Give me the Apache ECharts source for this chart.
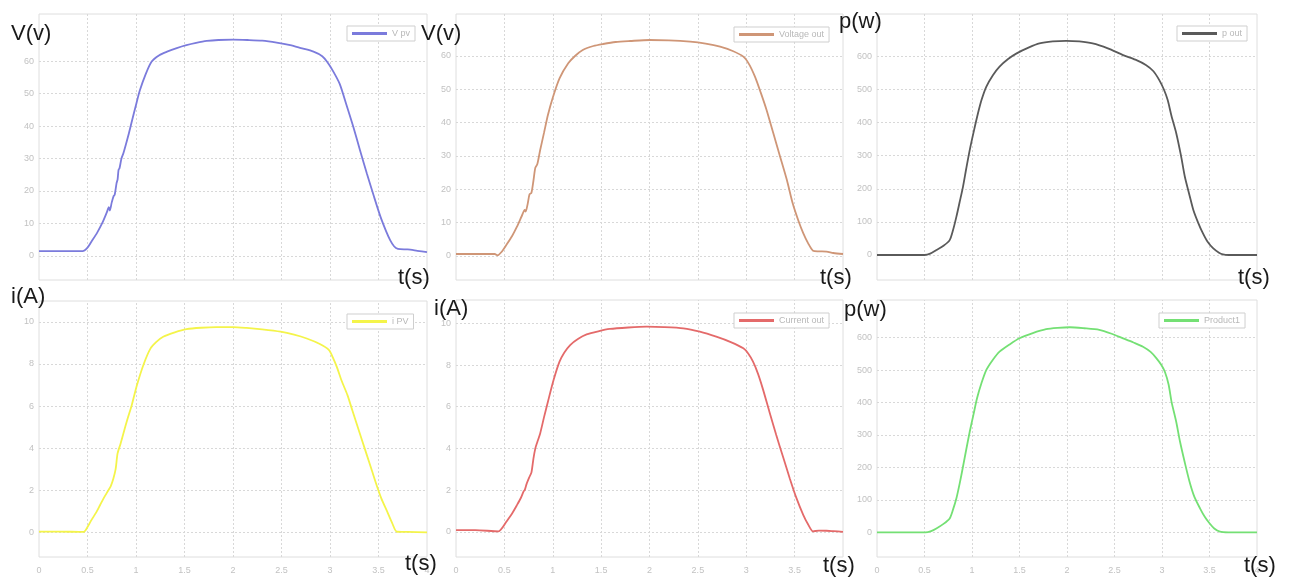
<!DOCTYPE html>
<html>
<head>
<meta charset="utf-8">
<script src="https://cdn.jsdelivr.net/npm/echarts@6/dist/echarts.min.js"></script>
<style>
  html, body { margin: 0; padding: 0; background: #fff; }
  #main { width: 1293px; height: 579px; }
</style>
</head>
<body>
<div id="main"></div>
<script>
// time samples (s) and values
var tVpv = [0, 0.2, 0.45, 0.5, 0.54, 0.6, 0.65, 0.7, 0.72, 0.73, 0.75, 0.77, 0.78, 0.8, 0.81, 0.82, 0.83, 0.85, 0.87, 0.92, 0.96, 1.0, 1.04, 1.1, 1.16, 1.24, 1.32, 1.42, 1.52, 1.62, 1.73, 1.85, 2.0, 2.15, 2.3, 2.45, 2.59, 2.7, 2.83, 2.92, 2.97, 3.03, 3.1, 3.17, 3.24, 3.31, 3.38, 3.45, 3.52, 3.58, 3.62, 3.66, 3.7, 3.8, 3.9, 4.0];
var vPv = [1.5, 1.5, 1.5, 2.6, 4.4, 7.2, 10, 13.5, 15, 14, 16.5, 18.5, 18.8, 22.5, 23.5, 26.5, 27, 30, 31.6, 37, 41.8, 46.5, 51, 56, 59.8, 61.8, 62.9, 64, 64.9, 65.6, 66.2, 66.5, 66.6, 66.5, 66.3, 65.7, 64.9, 64, 62.9, 61.5, 59.8, 57, 53, 46.5, 39.8, 32.5, 25.4, 18.6, 12.1, 7.5, 4.9, 3, 2.2, 2, 1.6, 1.2];

var tVout = [0, 0.2, 0.4, 0.43, 0.47, 0.52, 0.58, 0.63, 0.68, 0.71, 0.72, 0.74, 0.76, 0.78, 0.8, 0.82, 0.84, 0.87, 0.91, 0.95, 1.0, 1.07, 1.16, 1.23, 1.31, 1.42, 1.52, 1.65, 1.8, 2.0, 2.2, 2.42, 2.58, 2.73, 2.86, 2.97, 3.03, 3.09, 3.15, 3.21, 3.28, 3.35, 3.42, 3.48, 3.54, 3.59, 3.64, 3.69, 3.75, 3.83, 3.9, 4.0];
var vOut = [0.6, 0.6, 0.6, 0.2, 1.2, 3.3, 6, 8.8, 12, 13.8, 13.3, 15.5, 18.5, 19, 22.5, 26.5, 27.5, 31.8, 37, 42.3, 47.5, 53.3, 57.8, 60, 61.8, 63, 63.6, 64.2, 64.5, 64.8, 64.7, 64.3, 63.7, 62.8, 61.5, 59.8, 57.5, 53.8, 49, 43.8, 36.8, 29.8, 22.8, 15.8, 10.5, 6.8, 3.8, 1.6, 1.4, 1.3, 0.9, 0.6];

var tPout = [0, 0.3, 0.5, 0.56, 0.625, 0.7, 0.765, 0.8, 0.836, 0.87, 0.905, 0.94, 0.976, 1.02, 1.063, 1.1, 1.15, 1.22, 1.29, 1.38, 1.47, 1.6, 1.71, 1.85, 1.99, 2.13, 2.27, 2.43, 2.59, 2.72, 2.83, 2.91, 2.97, 3.02, 3.06, 3.1, 3.15, 3.2, 3.24, 3.29, 3.33, 3.38, 3.43, 3.48, 3.54, 3.6, 3.64, 3.7, 3.8, 4.0];
var pOut = [0, 0, 0, 4, 15, 28, 45, 75, 116, 160, 206, 262, 317, 375, 428, 468, 508, 543, 569, 592, 609, 627, 639, 645, 647, 645, 639, 624, 604, 590, 574, 555, 529, 500, 468, 420, 368, 300, 237, 180, 136, 98, 66, 40, 20, 7, 2, 0, 0, 0];

var tIpv = [0, 0.2, 0.46, 0.5, 0.54, 0.59, 0.63, 0.67, 0.715, 0.74, 0.767, 0.79, 0.81, 0.84, 0.87, 0.91, 0.956, 1.01, 1.08, 1.15, 1.21, 1.28, 1.4, 1.52, 1.67, 1.83, 2.0, 2.14, 2.3, 2.49, 2.63, 2.76, 2.89, 2.99, 3.03, 3.07, 3.12, 3.18, 3.23, 3.28, 3.33, 3.38, 3.43, 3.48, 3.53, 3.59, 3.64, 3.69, 3.8, 4.0];
var iPv = [0.04, 0.04, 0.02, 0.25, 0.58, 0.95, 1.3, 1.65, 2.0, 2.2, 2.56, 3.0, 3.75, 4.2, 4.7, 5.35, 6.04, 7.0, 8.0, 8.74, 9.05, 9.29, 9.5, 9.65, 9.72, 9.75, 9.75, 9.71, 9.64, 9.53, 9.39, 9.21, 8.96, 8.66, 8.3, 7.86, 7.2, 6.52, 5.8, 5.09, 4.38, 3.67, 2.96, 2.25, 1.6, 0.98, 0.45, 0.03, 0.02, 0];

var tIout = [0, 0.2, 0.44, 0.48, 0.52, 0.58, 0.63, 0.67, 0.7, 0.71, 0.73, 0.76, 0.78, 0.8, 0.82, 0.84, 0.87, 0.91, 0.95, 1.01, 1.07, 1.12, 1.18, 1.26, 1.35, 1.47, 1.59, 1.78, 1.97, 2.15, 2.35, 2.52, 2.69, 2.84, 2.97, 3.02, 3.07, 3.12, 3.17, 3.24, 3.31, 3.38, 3.45, 3.52, 3.59, 3.64, 3.69, 3.75, 3.83, 3.9, 4.0];
var iOut = [0.08, 0.08, 0.02, 0.2, 0.48, 0.88, 1.28, 1.62, 1.95, 2.0, 2.3, 2.64, 2.85, 3.5, 4.0, 4.3, 4.72, 5.5, 6.24, 7.3, 8.16, 8.6, 8.96, 9.25, 9.47, 9.62, 9.73, 9.8, 9.84, 9.82, 9.76, 9.6, 9.36, 9.1, 8.8, 8.55, 8.16, 7.6, 6.88, 5.75, 4.64, 3.6, 2.56, 1.6, 0.8, 0.35, 0.02, 0.06, 0.05, 0.03, 0];

var tProd = [0, 0.3, 0.51, 0.57, 0.625, 0.7, 0.765, 0.8, 0.836, 0.87, 0.905, 0.94, 0.976, 1.015, 1.053, 1.1, 1.15, 1.22, 1.29, 1.4, 1.5, 1.64, 1.78, 1.9, 2.03, 2.18, 2.34, 2.47, 2.59, 2.7, 2.8, 2.88, 2.94, 2.99, 3.03, 3.07, 3.1, 3.15, 3.19, 3.24, 3.29, 3.34, 3.4, 3.45, 3.5, 3.55, 3.61, 3.7, 3.8, 4.0];
var pProd = [0, 0, 0, 4, 12, 26, 43, 70, 105, 150, 202, 256, 310, 362, 413, 460, 500, 532, 557, 580, 598, 614, 626, 630, 632, 629, 624, 612, 598, 585, 572, 556, 537, 517, 495, 455, 403, 340, 279, 215, 156, 110, 74, 48, 28, 12, 2, 0, 0, 0];

// tick labels
var xTicks = [0, 0.5, 1, 1.5, 2, 2.5, 3, 3.5, 4];
var vTicks = [0, 10, 20, 30, 40, 50, 60];
var iTicks = [0, 2, 4, 6, 8, 10];
var pTicks = [0, 100, 200, 300, 400, 500, 600];

function zip(t, v) {
  var out = [];
  for (var i = 0; i < t.length; i++) out.push([t[i], v[i]]);
  return out;
}

var panels = [
  { name: 'V pv', t: tVpv, v: vPv, color: '#7b7bdc', grid: [39, 14, 388, 266], y: [-7.4, 74.5], ticks: vTicks, legend: [347, 26], xlab: false },
  { name: 'Voltage out', t: tVout, v: vOut, color: '#cf9677', grid: [456, 14, 387, 266], y: [-7.2, 72.6], ticks: vTicks, legend: [734, 27], xlab: false },
  { name: 'p out', t: tPout, v: pOut, color: '#5a5a5a', grid: [877, 14, 380, 266], y: [-75.5, 728], ticks: pTicks, legend: [1177, 26], xlab: false },
  { name: 'i PV', t: tIpv, v: iPv, color: '#f4f44a', grid: [39, 301, 388, 256], y: [-1.17, 10.99], ticks: iTicks, legend: [347, 314], xlab: true },
  { name: 'Current out', t: tIout, v: iOut, color: '#e46a6a', grid: [456, 300, 387, 257], y: [-1.21, 11.12], ticks: iTicks, legend: [734, 313], xlab: true },
  { name: 'Product1', t: tProd, v: pProd, color: '#74e074', grid: [877, 300, 380, 257], y: [-76, 716], ticks: pTicks, legend: [1159, 313], xlab: true }
];

var labelFont = { fontSize: 9, color: '#c2c2c2', fontFamily: 'Liberation Sans' };
var dotted = { color: '#d8d8d8', type: [2, 2], width: 1 };

var grids = [], xAxes = [], yAxes = [], series = [], legends = [];
panels.forEach(function (p, k) {
  grids.push({ left: p.grid[0], top: p.grid[1], width: p.grid[2], height: p.grid[3], show: true, borderColor: '#dedede', borderWidth: 1 });
  xAxes.push({
    gridIndex: k, type: 'value', min: 0, max: 4,
    axisLine: { show: false }, axisTick: { show: false, customValues: xTicks },
    axisLabel: Object.assign({ show: p.xlab, margin: 9, customValues: xTicks }, labelFont),
    splitLine: { show: false }
  });
  yAxes.push({
    gridIndex: k, type: 'value', min: p.y[0], max: p.y[1],
    axisLine: { show: false }, axisTick: { show: false, customValues: p.ticks },
    axisLabel: Object.assign({ margin: 5, customValues: p.ticks }, labelFont),
    splitLine: { show: false }
  });
  // dotted grid lines at the tick values, kept under the curve
  var gridLines = xTicks.slice(1, -1).map(function (x) { return { xAxis: x }; })
    .concat(p.ticks.map(function (y) { return { yAxis: y }; }));
  series.push({
    name: 'grid' + k, type: 'line', xAxisIndex: k, yAxisIndex: k, data: [], z: 1,
    markLine: { silent: true, z: 1, symbol: 'none', label: { show: false }, lineStyle: dotted, animation: false, data: gridLines }
  });
  series.push({
    name: p.name, type: 'line', xAxisIndex: k, yAxisIndex: k, z: 10,
    data: zip(p.t, p.v), symbol: 'none', smooth: 0.25,
    lineStyle: { color: p.color, width: 1.8 }, itemStyle: { color: p.color },
    animation: false
  });
  legends.push({
    data: [p.name], left: p.legend[0], top: p.legend[1],
    icon: 'rect', itemWidth: 35, itemHeight: 3, itemGap: 0,
    padding: [3, 5, 3, 5], borderColor: '#cfcfcf', borderWidth: 1, backgroundColor: '#fff',
    textStyle: { fontSize: 9, color: '#b8b8b8', fontFamily: 'Liberation Sans' },
    selectedMode: false
  });
});

var big = '22px "Liberation Sans"';
function label(text, x, y) {
  return { type: 'text', x: x, y: y, z: 100, style: { text: text, font: big, fill: '#1a1a1a', verticalAlign: 'middle' } };
}

var myChart = echarts.init(document.getElementById('main'));
myChart.setOption({
  backgroundColor: '#fff',
  animation: false,
  grid: grids,
  xAxis: xAxes,
  yAxis: yAxes,
  legend: legends,
  series: series,
  graphic: [
    label('V(v)', 11, 34),
    label('V(v)', 421, 34),
    label('p(w)', 839, 22),
    label('i(A)', 11, 297),
    label('i(A)', 434, 309),
    label('p(w)', 844, 310),
    label('t(s)', 398, 278),
    label('t(s)', 820, 278),
    label('t(s)', 1238, 278),
    label('t(s)', 405, 564),
    label('t(s)', 823, 566),
    label('t(s)', 1244, 566)
  ]
});
</script>
</body>
</html>
